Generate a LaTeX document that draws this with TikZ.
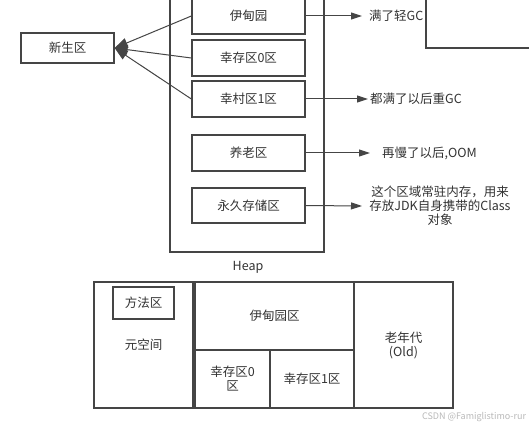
\documentclass[tikz,border=0pt]{standalone}
\usepackage{fontspec}
\setmainfont{Noto Sans CJK SC}
\usetikzlibrary{arrows.meta}
\definecolor{ln}{HTML}{454545}
\definecolor{tx}{HTML}{333333}
\begin{document}
\begin{tikzpicture}[x=1pt,y=-1pt,
  every node/.style={text=tx,font=\fontsize{12.5}{14}\selectfont},
  cell/.style={draw=ln,line width=1.3pt,minimum width=#1,inner sep=0pt},
  heapbox/.style={draw=ln,line width=1.3pt,minimum width=113pt,minimum height=36pt,inner sep=0pt},
  lab/.style={anchor=west,inner sep=0pt},
  conn/.style={draw=ln,line width=1pt,-{Triangle[length=11pt,width=7pt]}},
  joinarr/.style={draw=ln,line width=1pt,-{Triangle[length=13pt,width=10pt]}}]
\useasboundingbox (0,0) rectangle (529,430);
\clip (0,0) rectangle (529,430);
\fill[white] (0,0) rectangle (529,430);
% heap outer
\draw[ln,line width=1.3pt] (170,-10) rectangle (324,252);
\node[heapbox] (eden) at (248.5,16) {伊甸园};
\node[heapbox] (s0) at (248.5,58) {幸存区0区};
\node[heapbox] (s1) at (248.5,99) {幸村区1区};
\node[heapbox] (old) at (248.5,153) {养老区};
\node[heapbox,minimum height=35pt] (perm) at (248.5,205.5) {永久存储区};
\node (heap) at (248,267) {Heap};
% young
\node[cell=93pt,minimum height=30pt] (xs) at (67.5,48) {新生区};
\draw[joinarr] (eden.west) -- (xs.east);
\draw[joinarr] (s0.west) -- (xs.east);
\draw[joinarr] (s1.west) -- (xs.east);
% right labels
\node[lab] (t1) at (369,16) {满了轻GC};
\node[lab] (t2) at (370,99) {都满了以后重GC};
\node[lab] (t3) at (382,153) {再慢了以后,OOM};
\node[align=center,inner sep=0pt] (t4) at (440,206) {这个区域常驻内存，用来\\存放JDK自身携带的Class\\对象};
\draw[conn,shorten >=7pt] (eden.east) -- (t1.west);
\draw[conn,shorten >=2pt] (s1.east) -- (t2.west);
\draw[conn,shorten >=12pt] (old.east) -- (t3.west);
\draw[conn] (perm.east) -- (362,206) coordinate (t4in);
\draw[ln,line width=1.3pt,fill=white] (426,-10) rectangle (540,48);
% bottom diagram
\node[cell=99pt,minimum height=126pt] (meta) at (143.5,345) {元空间};
\node[cell=61pt,minimum height=32pt,line width=1.6pt] (method) at (143.5,303) {方法区};
\node[cell=159pt,minimum height=68pt] (edenz) at (274.5,316) {伊甸园区};
\node[cell=75pt,minimum height=58pt,align=center] (s0z) at (232.5,379) {幸存区0\\区};
\node[cell=84pt,minimum height=58pt] (s1z) at (312,379) {幸存区1区};
\node[cell=99pt,minimum height=126pt,align=center] (oldz) at (403.5,345) {老年代\\(Old)};
\node[text=gray!55,font=\fontsize{9}{10}\selectfont] (wm) at (474,417) {CSDN @Famiglistimo-rur};
\end{tikzpicture}
\end{document}
